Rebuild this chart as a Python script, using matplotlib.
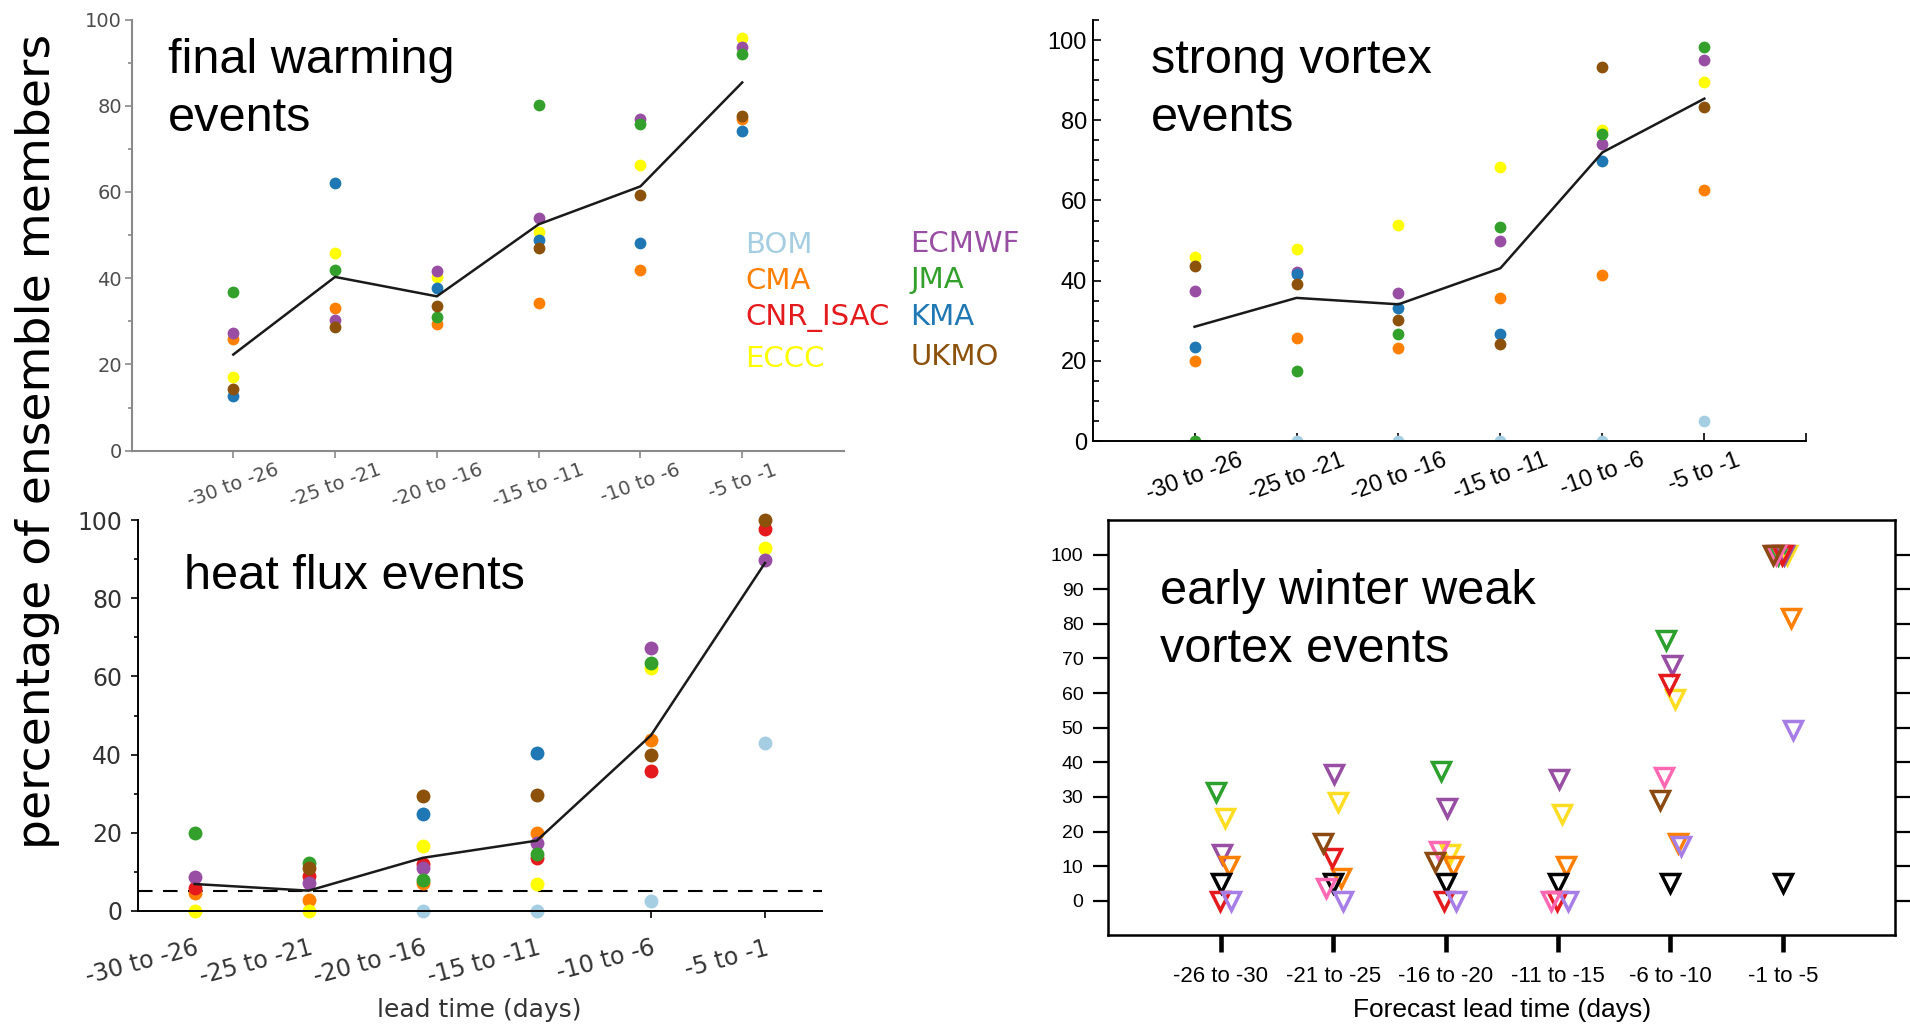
import numpy as np
import matplotlib.pyplot as plt

W, H = 1910, 1024
nan = np.nan

# ---- categories / labels
lead_bins = ["-30 to -26", "-25 to -21", "-20 to -16", "-15 to -11", "-10 to -6", "-5 to -1"]
lead_bins_ew = ["-26 to -30", "-21 to -25", "-16 to -20", "-11 to -15", "-6 to -10", "-1 to -5"]
models = ["BOM", "CMA", "CNR_ISAC", "ECCC", "ECMWF", "JMA", "KMA", "UKMO"]
model_colors = {
    "BOM": "#a6cee3", "CMA": "#ff7f00", "CNR_ISAC": "#e41a1c", "ECCC": "#ffff00",
    "ECMWF": "#984ea3", "JMA": "#33a02c", "KMA": "#1f78b4", "UKMO": "#8c510a",
}

# ---- final warming events (% of members)
final_warming = {
    "CMA":   [25.9, 33.1, 29.4, 34.2, 41.9, 77.0],
    "ECCC":  [17.2, 45.8, 40.3, 50.7, 66.3, 95.8],
    "ECMWF": [27.2, 30.3, 41.7, 54.0, 76.9, 93.6],
    "JMA":   [36.7, 41.9, 31.1, 80.2, 75.8, 92.1],
    "KMA":   [12.8, 62.0, 37.7, 48.8, 48.2, 74.2],
    "UKMO":  [14.2, 28.6, 33.5, 47.1, 59.4, 77.7],
}
final_warming_mean = [22.3, 40.3, 35.8, 52.5, 61.3, 85.4]

# ---- strong vortex events
strong_vortex = {
    "BOM":   [nan, 0.0, 0.0, 0.0, 0.0, 4.9],
    "CMA":   [19.9, 25.8, 23.3, 35.7, 41.5, 62.5],
    "ECCC":  [46.0, 47.8, 54.0, 68.3, 77.5, 89.5],
    "ECMWF": [37.5, 42.1, 36.8, 49.9, 74.0, 95.0],
    "JMA":   [0.0, 17.4, 26.6, 53.3, 76.6, 98.3],
    "KMA":   [23.5, 41.7, 33.3, 26.6, 69.9, nan],
    "UKMO":  [43.6, 39.2, 30.1, 24.1, 93.3, 83.2],
}
strong_vortex_mean = [28.5, 35.7, 34.1, 43.1, 72.0, 85.4]

# ---- heat flux events
heat_flux = {
    "BOM":      [nan, nan, 0.0, 0.0, 2.6, 42.9],
    "CMA":      [4.7, 2.8, 7.1, 19.9, 43.8, nan],
    "CNR_ISAC": [6.0, 8.9, 11.9, 13.6, 35.9, 97.6],
    "ECCC":     [0.0, 0.0, 16.7, 6.9, 62.2, 92.8],
    "ECMWF":    [8.6, 7.1, 11.0, 17.5, 67.2, 89.8],
    "JMA":      [20.0, 12.3, 8.0, 14.7, 63.5, nan],
    "KMA":      [nan, nan, 24.9, 40.4, nan, nan],
    "UKMO":     [nan, 11.0, 29.3, 29.7, 39.9, 100.0],
}
heat_flux_mean = [6.9, 5.2, 13.6, 18.0, 44.9, 89.0]
heat_flux_ref = 5

# ---- early winter weak vortex events (series keyed by marker colour)
ew_series = ["green", "yellow", "purple", "orange", "black", "red", "lavender", "pink", "brown"]
ew_values = {
    "green":    [31.4, nan, 37.5, nan, 75.4, 100.0],
    "yellow":   [24.0, 28.6, 13.5, 25.1, 58.3, 100.0],
    "purple":   [13.5, 36.7, 26.9, 35.3, 68.1, 100.0],
    "orange":   [10.1, 6.6, 10.1, 10.1, 16.7, 81.7],
    "black":    [5.0, 5.0, 5.0, 5.0, 5.0, 5.0],
    "red":      [0.0, 12.4, 0.0, 0.0, 62.6, 100.0],
    "lavender": [0.0, 0.0, 0.0, 0.0, 15.7, 49.4],
    "pink":     [nan, 3.7, 14.5, 0.0, 35.7, 100.0],
    "brown":    [nan, 16.7, 11.2, nan, 29.2, 100.0],
}
ew_colors = {
    "green": "#2ca02c", "yellow": "#ffdd22", "purple": "#984ea3", "orange": "#ff7f00",
    "black": "#000000", "red": "#e41a1c", "lavender": "#a77de6", "pink": "#ff69b4",
    "brown": "#8b4a12",
}
ew_shift = {"brown": -0.09, "pink": -0.06, "green": -0.04, "red": -0.01, "black": 0.0,
            "purple": 0.01, "yellow": 0.04, "orange": 0.07, "lavender": 0.09}


def box(x0, y0, x1, y1):
    """pixel box (top-left origin) -> figure fraction rect"""
    return [x0 / W, 1 - y1 / H, (x1 - x0) / W, (y1 - y0) / H]


def ftext(x, y, s, **kw):
    fig.text(x / W, 1 - y / H, s, **kw)


def draw_dots(ax, values, mean, ms, clip=True):
    x = np.arange(len(lead_bins))
    for m in models:
        if m in values:
            ax.plot(x, values[m], "o", color=model_colors[m], ms=ms, mec="none",
                    zorder=2, clip_on=clip)
    ax.plot(x, mean, color="#1a1a1a", lw=1.8, zorder=3, clip_on=clip)


fig = plt.figure(figsize=(W / 100, H / 100), dpi=100)
x6 = np.arange(6)

# ---------------- top left: final warming
ax1 = fig.add_axes(box(131.5, 19.5, 844, 450.7))
draw_dots(ax1, final_warming, final_warming_mean, 8.5)
ax1.set_xlim(-1, 6)
ax1.set_ylim(0, 100)
for s in ["top", "right"]:
    ax1.spines[s].set_visible(False)
for s in ["left", "bottom"]:
    ax1.spines[s].set_color("#8a8a8a")
    ax1.spines[s].set_linewidth(1.5)
ax1.set_yticks(range(0, 101, 20))
ax1.set_yticks(range(10, 100, 20), minor=True)
ax1.set_xticks(x6)
ax1.set_xticklabels(lead_bins, rotation=20, ha="center")
ax1.tick_params(which="both", colors="#8a8a8a", labelcolor="#4d4d4d", labelsize=14,
                length=5, width=1.2, pad=2)
ax1.tick_params(which="minor", length=3)

# ---------------- top right: strong vortex
ax2 = fig.add_axes(box(1092.6, 20.1, 1806.3, 441))
draw_dots(ax2, strong_vortex, strong_vortex_mean, 8.5)
ax2.set_xlim(-1, 6)
ax2.set_ylim(0, 105)
for s in ["top", "right"]:
    ax2.spines[s].set_visible(False)
for s in ["left", "bottom"]:
    ax2.spines[s].set_linewidth(1.4)
ax2.set_yticks(range(0, 101, 20))
ax2.set_yticks([v for v in range(5, 106, 5) if v % 20], minor=True)
ax2.set_xticks(list(x6) + [6])
ax2.set_xticklabels(lead_bins + [""], rotation=20, ha="center")
ax2.tick_params(which="both", direction="in", labelsize=17, length=6, width=1.2, pad=4)
ax2.tick_params(axis="x", pad=6)
ax2.tick_params(which="minor", length=4)
for lab in ax2.get_xticklabels() + ax2.get_yticklabels():
    lab.set_fontfamily("Liberation Sans")

# ---------------- bottom left: heat flux
ax3 = fig.add_axes(box(137.6, 520, 822, 911))
draw_dots(ax3, heat_flux, heat_flux_mean, 10, clip=False)
ax3.axhline(heat_flux_ref, color="black", lw=1.5, ls=(0, (7, 5)), zorder=1)
ax3.set_xlim(-0.5, 5.5)
ax3.set_ylim(0, 100)
for s in ["top", "right"]:
    ax3.spines[s].set_visible(False)
for s in ["left", "bottom"]:
    ax3.spines[s].set_linewidth(1.4)
ax3.set_yticks(range(0, 101, 20))
ax3.set_yticks(range(10, 100, 20), minor=True)
ax3.set_xticks(x6)
ax3.set_xticklabels(lead_bins, rotation=15, ha="right", rotation_mode="anchor")
ax3.tick_params(which="both", labelsize=17, labelcolor="#333333", length=5, width=1.2)
ax3.tick_params(axis="x", pad=13)
ax3.tick_params(axis="y", pad=6)
ax3.tick_params(which="minor", length=3)
ax3.set_xlabel("lead time (days)", fontsize=18, color="#333333")
ax3.xaxis.set_label_coords(0.499, -0.222)

# ---------------- bottom right: early winter weak vortex
ax4 = fig.add_axes(box(1108.4, 520, 1895.2, 935.4))
for k in ew_series:
    ax4.plot(np.arange(1, 7) + ew_shift[k], ew_values[k], "v", ms=13, mfc="none",
             mec=ew_colors[k], mew=2.5, zorder=2)
ax4.set_xlim(0, 7)
ax4.set_ylim(-10, 110)
for s in ax4.spines.values():
    s.set_linewidth(1.8)
ax4.set_yticks(range(0, 101, 10))
ax4.set_xticks(np.arange(1, 7))
ax4.set_xticklabels(lead_bins_ew)
ax4.tick_params(axis="y", which="both", left=True, right=True, direction="out",
                length=11, width=1.6, labelsize=14, pad=7)
ax4.tick_params(axis="x", direction="out", length=12, width=3.3, labelsize=16, pad=10)
for lab in ax4.get_xticklabels() + ax4.get_yticklabels():
    lab.set_fontfamily("Liberation Sans")
ax4.set_xlabel("Forecast lead time (days)", fontsize=19, family="Liberation Sans")
ax4.xaxis.set_label_coords(0.5, -0.15)

# ---------------- panel titles
title_kw = dict(fontsize=35, family="Liberation Sans", va="top", ha="left", linespacing=1.38)
ftext(168, 38, "final warming\nevents", **title_kw)
ftext(1151, 38, "strong vortex\nevents", **title_kw)
ftext(184, 554, "heat flux events", **title_kw)
ftext(1160, 569, "early winter weak\nvortex events", **title_kw)

# ---------------- model legend (coloured names)
leg_left = [("BOM", 245), ("CMA", 281), ("CNR_ISAC", 318), ("ECCC", 359)]
leg_right = [("ECMWF", 244), ("JMA", 280), ("KMA", 317), ("UKMO", 357)]
for name, yy in leg_left:
    ftext(745, yy, name, color=model_colors[name], fontsize=21, va="center", ha="left")
for name, yy in leg_right:
    ftext(910, yy, name, color=model_colors[name], fontsize=21, va="center", ha="left")

# ---------------- shared y label
ftext(38, 441, "percentage of ensemble members", rotation=90, fontsize=34,
      ha="center", va="center")

fig.savefig("out.png", dpi=100)
